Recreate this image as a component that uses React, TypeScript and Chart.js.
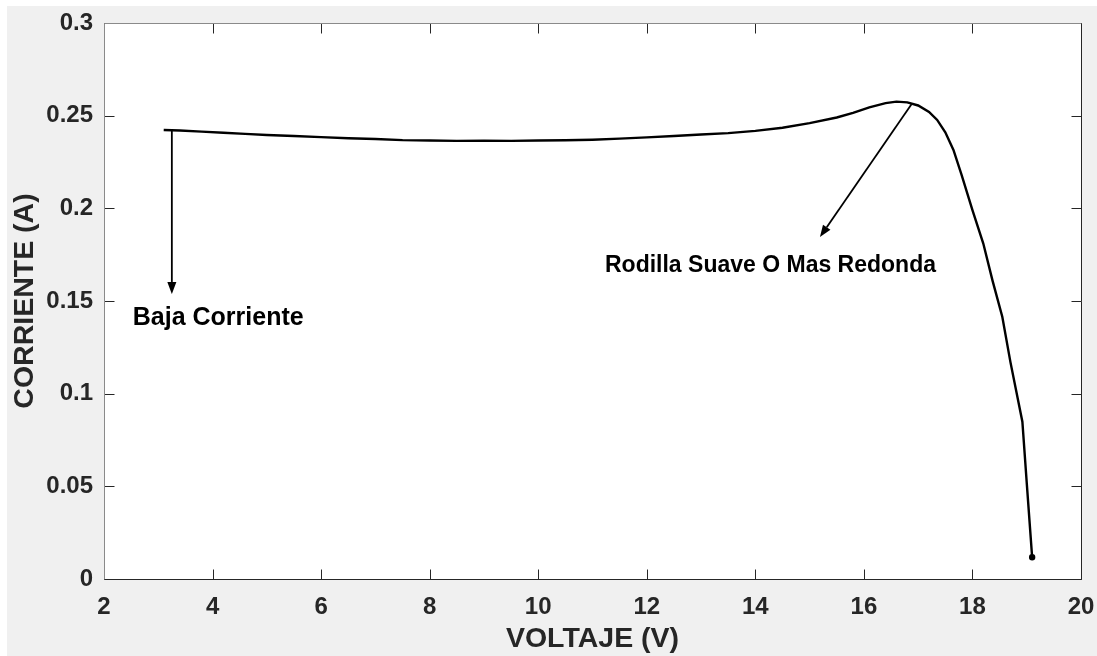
import React, { useEffect, useRef } from "react";
import { Chart, registerables } from "chart.js";

Chart.register(...registerables);

// ---- Data ----
const voltage = [
  3.1, 3.4, 3.8, 4.2, 4.6, 5.0, 5.5, 6.0, 6.5, 7.0, 7.5, 8.0, 8.5, 9.0, 9.5,
  10.0, 10.5, 11.0, 11.5, 12.0, 12.5, 13.0, 13.5, 14.0, 14.5, 15.0, 15.5, 15.8,
  16.1, 16.4, 16.6, 16.8, 17.0, 17.2, 17.35, 17.5, 17.65, 17.8, 18.0, 18.2,
  18.37, 18.55, 18.7, 18.92, 19.0, 19.1,
];
const current = [
  0.2423, 0.242, 0.2414, 0.2408, 0.2402, 0.2396, 0.239, 0.2384, 0.2378, 0.2374,
  0.2368, 0.2366, 0.2364, 0.2365, 0.2364, 0.2366, 0.2367, 0.237, 0.2376, 0.2383,
  0.239, 0.2398, 0.2406, 0.2418, 0.2435, 0.246, 0.249, 0.2515, 0.2545, 0.2568,
  0.2576, 0.2572, 0.2555, 0.252, 0.2477, 0.241, 0.2315, 0.218, 0.199, 0.181,
  0.161, 0.1415, 0.117, 0.0849, 0.052, 0.0117,
];

const xTickLabels = ["2", "4", "6", "8", "10", "12", "14", "16", "18", "20"];
const yTickLabels = ["0", "0.05", "0.1", "0.15", "0.2", "0.25", "0.3"];

const xTitle = "VOLTAJE (V)";
const yTitle = "CORRIENTE (A)";

// Annotations (text + arrow, in data coordinates)
const noteTexts = ["Baja Corriente", "Rodilla Suave O Mas Redonda"];
const noteFontSizes = [25, 23];
const noteTextAt = [
  [2.53, 0.137],
  [11.23, 0.1657],
];
const noteArrowFrom = [
  [3.25, 0.2423],
  [16.88, 0.2563],
];
const noteArrowTo = [
  [3.25, 0.1538],
  [15.19, 0.1845],
];

const FONT = '"Liberation Sans", Arial, Helvetica, sans-serif';
const DARK = "#262626";

const framePlugin = {
  id: "matlabFrame",
  beforeDraw(chart: any) {
    const { ctx, chartArea: a } = chart;
    ctx.save();
    ctx.fillStyle = "#ffffff";
    ctx.fillRect(a.left, a.top, a.right - a.left, a.bottom - a.top);
    ctx.restore();
  },
  afterDatasetsDraw(chart: any) {
    const { ctx, scales } = chart;
    const xs = scales.x;
    const ys = scales.y;
    ctx.save();
    ctx.strokeStyle = "#000";
    ctx.fillStyle = "#000";
    ctx.lineWidth = 1.8;
    for (let i = 0; i < noteTexts.length; i++) {
      const fx = xs.getPixelForValue(noteArrowFrom[i][0]);
      const fy = ys.getPixelForValue(noteArrowFrom[i][1]);
      const tx = xs.getPixelForValue(noteArrowTo[i][0]);
      const ty = ys.getPixelForValue(noteArrowTo[i][1]);
      const ang = Math.atan2(ty - fy, tx - fx);
      const hl = 12;
      const hw = 4.5;
      const bx = tx - hl * Math.cos(ang);
      const by = ty - hl * Math.sin(ang);
      ctx.beginPath();
      ctx.moveTo(fx, fy);
      ctx.lineTo(bx, by);
      ctx.stroke();
      ctx.beginPath();
      ctx.moveTo(tx, ty);
      ctx.lineTo(bx + hw * Math.sin(ang), by - hw * Math.cos(ang));
      ctx.lineTo(bx - hw * Math.sin(ang), by + hw * Math.cos(ang));
      ctx.closePath();
      ctx.fill();

      ctx.font = `bold ${noteFontSizes[i]}px ${FONT}`;
      ctx.textAlign = "left";
      ctx.textBaseline = "alphabetic";
      ctx.fillText(
        noteTexts[i],
        xs.getPixelForValue(noteTextAt[i][0]),
        ys.getPixelForValue(noteTextAt[i][1])
      );
    }
    ctx.restore();
  },
  afterDraw(chart: any) {
    const { ctx, chartArea: a, scales } = chart;
    const xs = scales.x;
    const ys = scales.y;
    const L = Math.round(a.left) + 0.5;
    const R = Math.round(a.right) + 0.5;
    const T = Math.round(a.top) + 0.5;
    const B = Math.round(a.bottom) + 0.5;
    ctx.save();
    ctx.lineWidth = 1;
    ctx.strokeStyle = DARK;
    const tl = 10;
    xs.ticks.forEach((t: any) => {
      const px = Math.round(xs.getPixelForValue(t.value)) + 0.5;
      ctx.beginPath();
      ctx.moveTo(px, B);
      ctx.lineTo(px, B - tl);
      ctx.moveTo(px, T);
      ctx.lineTo(px, T + tl);
      ctx.stroke();
    });
    ys.ticks.forEach((t: any) => {
      const py = Math.round(ys.getPixelForValue(t.value)) + 0.5;
      ctx.beginPath();
      ctx.moveTo(L, py);
      ctx.lineTo(L + tl, py);
      ctx.moveTo(R, py);
      ctx.lineTo(R - tl, py);
      ctx.stroke();
    });
    // box: left/top lighter, bottom/right dark (as in reference)
    ctx.strokeStyle = "#8a8a8a";
    ctx.beginPath();
    ctx.moveTo(L, B);
    ctx.lineTo(L, T);
    ctx.lineTo(R, T);
    ctx.stroke();
    ctx.strokeStyle = DARK;
    ctx.beginPath();
    ctx.moveTo(R, T);
    ctx.lineTo(R, B);
    ctx.lineTo(L, B);
    ctx.stroke();
    ctx.restore();
  },
};

const zeroPad = (s: any) => {
  s.paddingTop = 0;
  s.paddingBottom = 0;
  s.paddingLeft = 0;
  s.paddingRight = 0;
};

export default function App() {
  const canvasRef = useRef<HTMLCanvasElement | null>(null);

  useEffect(() => {
    const canvas = canvasRef.current;
    if (!canvas) return;
    const points = voltage.map((v, i) => ({ x: v, y: current[i] }));
    const radii = voltage.map((_, i) => (i === voltage.length - 1 ? 2 : 0));
    const chart = new Chart(canvas, {
      type: "line",
      data: {
        datasets: [
          {
            data: points,
            borderColor: "#000000",
            backgroundColor: "#000000",
            borderWidth: 2.4,
            pointRadius: radii,
            pointHoverRadius: 0,
            tension: 0,
            fill: false,
          },
        ],
      },
      options: {
        animation: false,
        responsive: false,
        devicePixelRatio: 1,
        events: [],
        layout: { padding: { top: 17, right: 16, left: 0, bottom: 0 } },
        plugins: {
          legend: { display: false },
          tooltip: { enabled: false },
        },
        scales: {
          x: {
            type: "linear",
            min: 2,
            max: 20,
            ticks: {
              stepSize: 2,
              autoSkip: false,
              maxRotation: 0,
              padding: 14,
              color: DARK,
              font: { family: FONT, size: 24, weight: "bold" },
              callback: (_v: any, i: number) => xTickLabels[i],
            },
            grid: { display: false, drawTicks: false },
            border: { display: false },
            title: {
              display: true,
              text: xTitle,
              color: DARK,
              font: { family: FONT, size: 28.5, weight: "bold", lineHeight: 1.15 },
              padding: { top: 0, bottom: 0 },
            },
            afterFit: (s: any) => {
              s.height = 77;
              zeroPad(s);
            },
          },
          y: {
            type: "linear",
            min: 0,
            max: 0.3,
            ticks: {
              stepSize: 0.05,
              autoSkip: false,
              padding: 11,
              color: DARK,
              font: { family: FONT, size: 24, weight: "bold" },
              callback: (_v: any, i: number) => yTickLabels[i],
            },
            grid: { display: false, drawTicks: false },
            border: { display: false },
            title: {
              display: true,
              text: yTitle,
              color: DARK,
              font: { family: FONT, size: 28.5, weight: "bold", lineHeight: 1.15 },
              padding: { top: 2, bottom: 0 },
            },
            afterFit: (s: any) => {
              s.width = 97;
              zeroPad(s);
            },
          },
        },
      },
      plugins: [framePlugin],
    } as any);
    return () => chart.destroy();
  }, []);

  return (
    <div
      style={{
        position: "absolute",
        left: 7,
        top: 6,
        width: 1090,
        height: 650,
        background: "#f0f0f0",
      }}
    >
      <canvas ref={canvasRef} width={1090} height={650} style={{ display: "block" }} />
    </div>
  );
}
